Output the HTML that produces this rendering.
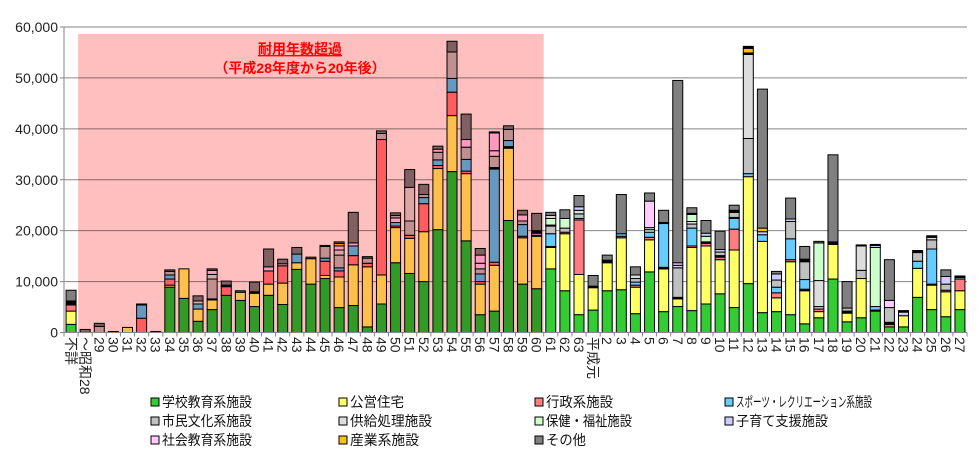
<!DOCTYPE html>
<html><head><meta charset="utf-8"><style>
body{margin:0;background:#fff;}
svg{display:block;font-family:"Liberation Sans","Noto Sans CJK JP",sans-serif;}
</style></head><body>
<svg id="s" width="977" height="460" xmlns="http://www.w3.org/2000/svg"></svg>
<script>
const C={g:'#33cc33',y:'#ffff66',r:'#ff7c80',b:'#66ccff',s:'#c0c0c0',k:'#dddddd',h:'#ccffcc',c:'#ccccff',p:'#ffccff',o:'#ffc000',d:'#808080',x:'#000000'};
const cats=['不詳','～昭和28'];for(let i=29;i<=63;i++)cats.push(''+i);cats.push('平成元');for(let i=2;i<=27;i++)cats.push(''+i);
const D=[
'g1.6 y4.2 r5.4 x6.2 d8.3','d0.6','s1.2 d1.8','d0.2','y1.0','r2.8 b5.4 d5.6','d0.2',
'g8.9 y9.3 r10.5 b11.3 s12.0 d12.3','g6.7 y12.5','g2.2 y4.6 b5.6 k6.2 d7.2','g4.5 y6.4 x6.6 s10.5 k11.4 p12.2 d12.5',
'g7.3 r9.0 x9.3 d10.1','g6.3 y7.9 d8.2','g5.1 y7.7 x8.0 d9.9','g7.3 y9.5 r12.1 p12.9 d16.4','g5.5 y9.7 r13.1 k13.5 d14.4',
'g12.4 y13.7 b15.4 d16.7','g9.5 y14.5 d14.8','g10.6 y11.2 r14.0 b14.6 s16.9 d17.1',
'g4.9 y10.9 r12.1 b12.7 s15.2 k16.2 p17.0 o17.5 d17.8','g5.3 y13.3 r15.1 b17.0 p17.6 d23.6','g1.1 y12.9 r13.6 s14.6 d14.9',
'g5.6 y11.3 r37.9 s39.1 d39.6','g13.7 y20.6 r20.9 b21.6 p22.5 s23.0 d23.5','g11.6 y18.5 r19.1 s21.9 k28.5 d32.0',
'g10.0 y19.8 r25.3 b26.5 s27.1 d29.1','g20.2 y32.2 r32.8 b33.9 s35.4 p36.0 d36.6','g31.6 y42.6 r47.2 b49.9 s55.1 d57.2',
'g18.0 y31.2 r31.7 b34.0 s36.4 p37.9 d42.9','g3.5 y9.5 r10.0 b11.5 s12.5 p13.6 p15.2 d16.5',
'g4.2 y13.2 r13.8 b32.1 x32.4 s34.6 p35.7 p39.2 d39.4','g22.0 y36.2 x36.5 b37.7 s39.9 d40.6',
'g9.5 y18.6 r18.9 b21.2 s21.9 p23.1 d24.0','g8.6 y18.9 r19.1 p19.5 x20.0 d23.4',
'g12.5 y16.7 x16.9 b19.4 s20.9 x21.1 h22.4 k23.0 d23.6','g8.2 y19.4 r19.7 s20.5 h22.4 d24.1',
'g3.5 y11.4 r22.1 b22.4 s23.3 k24.0 c24.7 d26.9','g4.4 y8.8 x9.1 d11.2','g8.2 y13.7 x14.2 d15.2',
'g8.4 y18.6 r18.9 b19.4 d27.1','g3.7 y8.9 r9.3 b9.9 s10.6 k11.3 d12.9',
'g11.9 y18.2 r18.7 b19.7 h20.2 k20.6 p25.8 d27.4','g4.1 y12.5 x12.8 b21.4 x21.6 d24.0',
'g5.1 y6.6 x6.9 s12.7 c13.2 p13.7 d49.5','g4.3 y16.7 r17.0 b20.5 s21.3 k21.8 h23.2 x23.4 d24.5',
'g5.6 y17.0 r17.5 x17.8 h18.9 c19.5 d22.0','g7.6 y14.3 r14.8 x15.1 s15.8 c16.3 d19.9',
'g4.9 y16.2 r20.3 b22.4 k22.6 s23.6 x24.0 d25.0','g9.6 y30.6 b31.2 s38.1 k54.6 x54.9 o55.8 x56.2',
'g3.9 y17.9 b19.2 c19.8 o20.5 d47.8','g4.1 y6.8 r7.8 b8.9 s10.3 c11.5 d12.0',
'g3.5 y13.9 r14.3 b18.4 s21.8 c22.3 d26.4','g1.7 y8.2 x8.5 b10.4 s13.9 x14.4 d16.9',
'g2.9 y4.1 r4.6 s5.1 k10.2 h17.6 d17.9','g10.5 y17.3 x17.8 d34.9','g2.1 y3.8 x4.2 s4.8 d10.0',
'g2.9 y10.6 s12.2 k17.0 x17.2','g4.2 x4.4 b5.1 h16.7 c17.1 x17.3','g1.1 r1.6 x2.0 s4.9 p6.3 d14.3',
'g1.1 y3.3 c4.0 x4.3','g6.9 y12.6 b14.0 s15.7 x16.1','g4.5 y9.3 x9.5 b16.4 s18.2 k18.7 x19.0',
'g3.1 y8.0 r8.3 s9.5 c11.0 d12.3','g4.5 y8.2 r10.5 b10.8 x11.1'];
const X0=64,X1=967,Y0=332.5,K=305.5/60,W=(X1-X0)/64;
let h='';
for(let v=1;v<=6;v++){const y=Y0-v*10*K;h+=`<line x1="${X0}" x2="${X1}" y1="${y}" y2="${y}" stroke="#868686"/>`;}
for(let v=0;v<=6;v++){const y=Y0-v*10*K;h+=`<text x="58" y="${y+5}" font-size="14" text-anchor="end" fill="#222">${v?v*10+',000':'0'}</text>`;h+=`<line x1="${X0-4}" x2="${X0}" y1="${y}" y2="${y}" stroke="#868686"/>`;}
let bars='';
D.forEach((s,i)=>{const cx=X0+(i+0.5)*W;let prev=0;s.split(' ').forEach(t=>{const c=t[0],v=parseFloat(t.slice(1));const y1=Y0-v*K,y2=Y0-prev*K;bars+=`<rect x="${cx-5}" y="${y1}" width="10" height="${Math.max(y2-y1,0.5)}" fill="${C[c]}" stroke="#000" stroke-width="1"/>`;prev=v;});});
h+=bars;
h+=`<rect x="${X0+W}" y="34" width="${W*33}" height="${Y0-34}" fill="#ffbfbf" style="mix-blend-mode:multiply"/>`;
h+=`<line x1="${X0}" x2="${X0}" y1="27" y2="${Y0}" stroke="#868686"/><line x1="${X0}" x2="${X1}" y1="${Y0}" y2="${Y0}" stroke="#868686"/>`;
for(let i=0;i<=64;i++){const x=X0+i*W;h+=`<line x1="${x}" x2="${x}" y1="${Y0}" y2="${Y0+4}" stroke="#868686"/>`;}
cats.forEach((c,i)=>{const cx=X0+(i+0.5)*W;h+=`<text transform="translate(${cx-5},337) rotate(90)" font-size="14" fill="#222">${c}</text>`;});
h+=`<text x="300" y="54" font-size="14" font-weight="bold" fill="#ff0000" text-anchor="middle" text-decoration="underline">耐用年数超過</text>`;
h+=`<text x="300" y="73" font-size="14" font-weight="bold" fill="#ff0000" text-anchor="middle">（平成28年度から20年後）</text>`;
const L=[['g','学校教育系施設',90],['y','公営住宅',54],['r','行政系施設',67],['b','スポーツ・レクリエーション系施設',136],['s','市民文化系施設',90],['k','供給処理施設',82],['h','保健・福祉施設',86],['c','子育て支援施設',92],['p','社会教育系施設',90],['o','産業系施設',69],['d','その他',40]];
const LX=[151,339,535,725],LY=[402,421,440];
L.forEach((l,i)=>{const x=LX[i%4],y=LY[Math.floor(i/4)];h+=`<rect x="${x}" y="${y-4}" width="8" height="8" fill="${C[l[0]]}" stroke="#000"/><text x="${x+11}" y="${y+5}" font-size="14" fill="#111" textLength="${l[2]}" lengthAdjust="spacingAndGlyphs">${l[1]}</text>`;});
document.getElementById('s').innerHTML=h;
</script>
</body></html>
